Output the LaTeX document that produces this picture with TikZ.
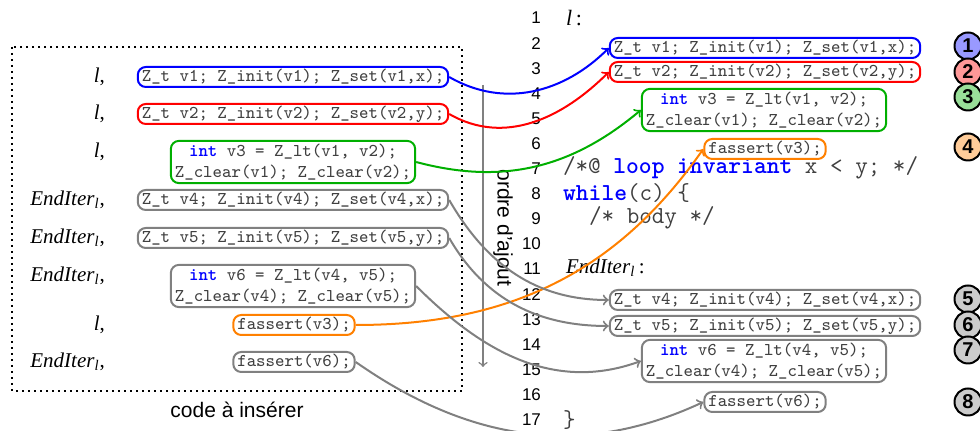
\documentclass[tikz,border=0pt]{standalone}
\usepackage{fontspec}
\setmainfont{Liberation Serif}
\setsansfont{Liberation Sans}
\definecolor{codegreen}{RGB}{0,175,0}
\definecolor{codeorange}{RGB}{255,128,0}
\definecolor{codegray}{RGB}{128,128,128}
\newcommand{\kw}[1]{\textcolor{blue}{\textbf{#1}}}
\newcommand{\lab}{\textit{l}}
\newcommand{\iterlab}{\textit{EndIter}\textsubscript{\textit{l}}}
\begin{document}
\begin{tikzpicture}[x=0.5pt,y=-0.5pt,
  box/.style={draw,rounded corners=4pt,line width=1pt,inner xsep=2pt,inner ysep=0.75pt,text height=6.5pt,text depth=2pt,font=\fontsize{9}{10.5}\selectfont\ttfamily,text=black!75},
  boxtwo/.style={draw,rounded corners=4pt,line width=1pt,inner xsep=2pt,inner ysep=1.5pt,align=center,font=\fontsize{9}{10.5}\selectfont\ttfamily,text=black!75},
  lbl/.style={anchor=east,font=\fontsize{10.5}{12}\selectfont},
  num/.style={anchor=east,font=\fontsize{8.5}{10}\selectfont\sffamily},
  code/.style={anchor=west,inner ysep=0pt,font=\fontsize{12.2}{14}\selectfont\ttfamily,text=black!75},
  badge/.style={circle,draw,line width=1pt,minimum size=13.5pt,inner sep=0pt,font=\fontsize{10}{12}\selectfont\sffamily\bfseries},
  link/.style={line width=1pt,->}]
\useasboundingbox (0,0) rectangle (980,431);
\draw[dotted,line width=1pt] (12,47) rectangle (462,391);
\node[font=\fontsize{10.5}{12}\selectfont\sffamily] (codelab) at (237,410) {code à insérer};
\node[lbl] (ll1) at (112,77) {\lab,};
\node[lbl] (ll2) at (112,114) {\lab,};
\node[lbl] (ll3) at (112,152) {\lab,};
\node[lbl] (ll4) at (112,200) {\iterlab,};
\node[lbl] (ll5) at (112,238) {\iterlab,};
\node[lbl] (ll6) at (112,276) {\iterlab,};
\node[lbl] (ll7) at (112,325) {\lab,};
\node[lbl] (ll8) at (112,362) {\iterlab,};
\node[box,draw=blue] (lb1) at (293,77) {Z\_t v1; Z\_init(v1); Z\_set(v1,x);};
\node[box,draw=red] (lb2) at (293,114) {Z\_t v2; Z\_init(v2); Z\_set(v2,y);};
\node[boxtwo,draw=codegreen] (lb3) at (293,162) {\kw{int} v3 = Z\_lt(v1, v2);\\Z\_clear(v1); Z\_clear(v2);};
\node[box,draw=codegray] (lb4) at (293,200) {Z\_t v4; Z\_init(v4); Z\_set(v4,x);};
\node[box,draw=codegray] (lb5) at (293,238) {Z\_t v5; Z\_init(v5); Z\_set(v5,y);};
\node[boxtwo,draw=codegray] (lb6) at (293,286) {\kw{int} v6 = Z\_lt(v4, v5);\\Z\_clear(v4); Z\_clear(v5);};
\node[box,draw=codeorange] (lb7) at (294,325) {fassert(v3);};
\node[box,draw=codegray] (lb8) at (294,362) {fassert(v6);};
\coordinate (ordtop) at (483,85);
\coordinate (ordbot) at (483,367);
\draw[->,codegray,line width=0.75pt] (ordtop) -- (ordbot);
\node[rotate=-90,font=\fontsize{10.5}{12}\selectfont\sffamily] (ordre) at (503,228) {ordre d'ajout};
\foreach \i in {1,...,17}
  \node[num] (n\i) at (548,{18+25.1*(\i-1)}) {\i};
\node[code,text=black,font=\fontsize{11}{13}\selectfont] (c1) at (559,18) {\lab\,:};
\node[code] (c7) at (556,168) {/*@ \kw{loop} \kw{invariant} x < y; */};
\node[code] (c8) at (556,193) {\kw{while}(c) \{};
\node[code] (c9) at (582,218) {/* body */};
\node[code,text=black,font=\fontsize{10.5}{12}\selectfont] (c11) at (559,268) {\iterlab\,:};
\node[code] (c17) at (556,420) {\}};
\node[box,draw=blue] (rb1) at (765,48) {Z\_t v1; Z\_init(v1); Z\_set(v1,x);};
\node[box,draw=red] (rb2) at (765,72) {Z\_t v2; Z\_init(v2); Z\_set(v2,y);};
\node[boxtwo,draw=codegreen] (rb3) at (764,110) {\kw{int} v3 = Z\_lt(v1, v2);\\Z\_clear(v1); Z\_clear(v2);};
\node[box,draw=codeorange] (rb4) at (765,149) {fassert(v3);};
\node[box,draw=codegray] (rb5) at (765,300) {Z\_t v4; Z\_init(v4); Z\_set(v4,x);};
\node[box,draw=codegray] (rb6) at (765,326) {Z\_t v5; Z\_init(v5); Z\_set(v5,y);};
\node[boxtwo,draw=codegray] (rb7) at (764,361) {\kw{int} v6 = Z\_lt(v4, v5);\\Z\_clear(v4); Z\_clear(v5);};
\node[box,draw=codegray] (rb8) at (765,402) {fassert(v6);};
\node[badge,fill=blue!40] (b1) at (968,46) {1};
\node[badge,fill=red!40] (b2) at (968,72) {2};
\node[badge,fill=codegreen!40] (b3) at (968,97) {3};
\node[badge,fill=codeorange!40] (b4) at (968,147) {4};
\node[badge,fill=codegray!40] (b5) at (968,299) {5};
\node[badge,fill=codegray!40] (b6) at (968,325) {6};
\node[badge,fill=codegray!40] (b7) at (968,350) {7};
\node[badge,fill=codegray!40] (b8) at (968,402) {8};
\draw[link,blue] (lb1.east) to[out=-30,in=-135] (rb1.west);
\draw[link,red] (lb2.east) to[out=-30,in=-135] (rb2.west);
\draw[link,codegreen] (lb3.east) to[out=-15,in=-140] (rb3.west);
\draw[link,codeorange] (lb7.east) to[out=0,in=-125] (rb4.west);
\draw[link,codegray] (lb4.east) to[out=-60,in=180] (rb5.west);
\draw[link,codegray] (lb5.east) to[out=-60,in=180] (rb6.west);
\draw[link,codegray] (lb6.east) to[out=-45,in=-160] (rb7.west);
\draw[link,codegray] (lb8.east) to[out=-35,in=-155] (rb8.west);
\end{tikzpicture}
\end{document}
